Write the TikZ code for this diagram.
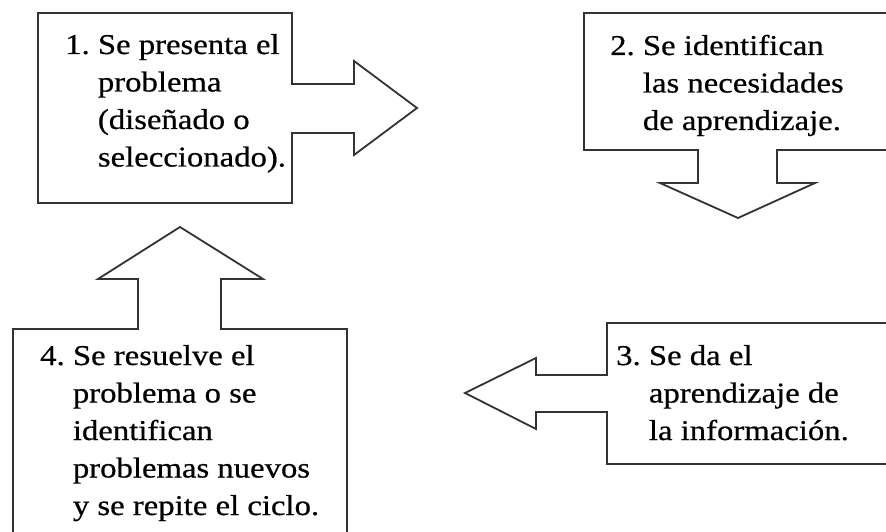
\documentclass[tikz,border=0pt]{standalone}
\usepackage{fontspec}
\setmainfont[FakeStretch=1.14,FakeBold=0.6]{Liberation Serif}
\begin{document}
\begin{tikzpicture}[x=1pt,y=-1pt,
  shapeline/.style={draw=black!80,line width=1.8pt,line join=miter,fill=white},
  steptext/.style={anchor=base west,inner sep=0pt,font=\fontsize{28.7}{37.5}\selectfont}]
\useasboundingbox (0,0) rectangle (886,532);
\clip (0,0) rectangle (886,532);
\fill[white] (0,0) rectangle (886,532);
% shape 1: box with right arrow
\draw[shapeline] (38,13) -- (292,13) -- (292,84) -- (354,84) -- (354,61) -- (417,108)
  -- (354,155) -- (354,133) -- (292,133) -- (292,203) -- (38,203) -- cycle;
% shape 2: box with down arrow
\draw[shapeline] (584,13) -- (900,13) -- (900,150) -- (777,150) -- (777,183) -- (815,183)
  -- (738,218) -- (660,183) -- (698,183) -- (698,150) -- (584,150) -- cycle;
% shape 3: box with left arrow
\draw[shapeline] (900,323) -- (607,323) -- (607,375) -- (536,375) -- (536,358) -- (465,393)
  -- (536,429) -- (536,412) -- (607,412) -- (607,464) -- (900,464) -- cycle;
% shape 4: box with up arrow
\draw[shapeline] (13,545) -- (13,329) -- (138,329) -- (138,279) -- (98,279) -- (180,227)
  -- (263,279) -- (221,279) -- (221,329) -- (347,329) -- (347,545) -- cycle;
\node[steptext] (t1) at (65,54) {\begin{tabular}[t]{@{}l@{\ }l@{}}1. & Se presenta el\\ & problema\\ & (diseñado o\\ & seleccionado).\end{tabular}};
\node[steptext] (t2) at (610,55) {\begin{tabular}[t]{@{}l@{\ }l@{}}2. & Se identifican\\ & las necesidades\\ & de aprendizaje.\end{tabular}};
\node[steptext] (t3) at (616,365) {\begin{tabular}[t]{@{}l@{\ }l@{}}3. & Se da el\\ & aprendizaje de\\ & la información.\end{tabular}};
\node[steptext] (t4) at (40,365) {\begin{tabular}[t]{@{}l@{\ }l@{}}4. & Se resuelve el\\ & problema o se\\ & identifican\\ & problemas nuevos\\ & y se repite el ciclo.\end{tabular}};
\end{tikzpicture}
\end{document}
